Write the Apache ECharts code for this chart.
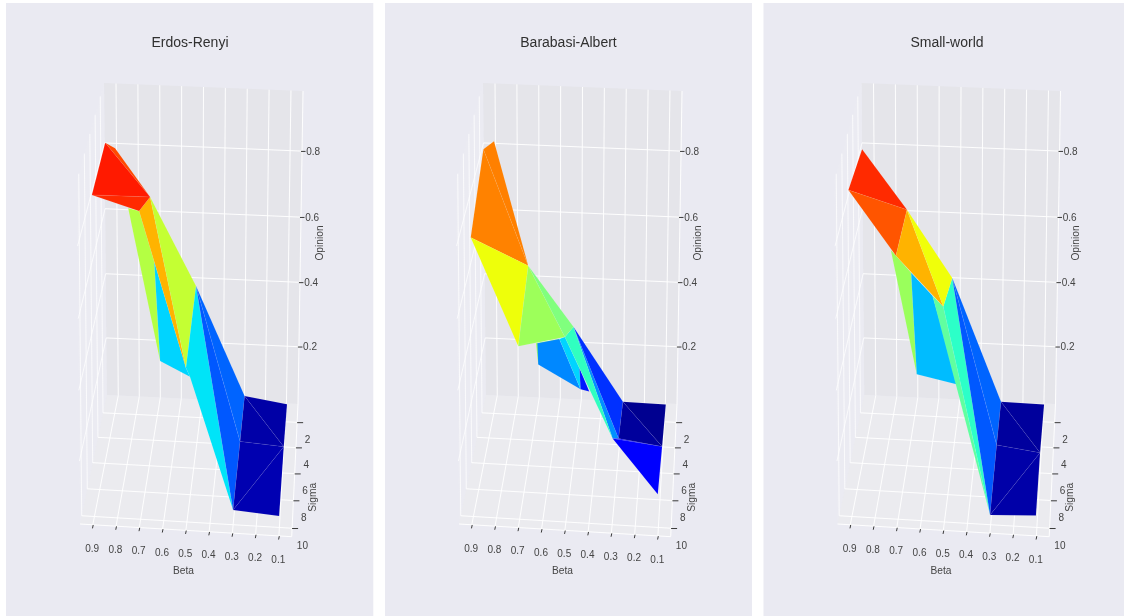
<!DOCTYPE html>
<html><head><meta charset="utf-8"><style>html,body{margin:0;padding:0;background:#fff}#c{width:1124px;height:616px}#c canvas{filter:blur(.3px)}</style>
<script src="https://cdn.jsdelivr.net/npm/echarts@6/dist/echarts.min.js"></script></head><body><div id="c"></div>
<script>
// ---------- chart content ----------
const panelTitles = ['Erdos-Renyi', 'Barabasi-Albert', 'Small-world'];
const betaTicks = [0.9, 0.8, 0.7, 0.6, 0.5, 0.4, 0.3, 0.2, 0.1];
const sigmaTicks = [2, 4, 6, 8, 10];
const opinionTicks = [0.2, 0.4, 0.6, 0.8];

// Erdos-Renyi surface: one value per vertex
const erBeta    = [.946,.901,.741,.528,.297,.096,.811,.695,.669,.533,.302,.101,.901,.705,.507,.301,.102];
const erSigma   = [1,1,1,1,1,1,4,4,4,4,4,4,10,10,10,10,10];
const erOpinion = [.815,.800,.657,.391,.056,.037,.712,.558,.262,.219,.030,.021,.924,.886,.458,.062,.053];
const erFaces = [[0,1,2],[6,13,7,8],[7,8,9,14],[13,2,14],[2,3,14],[3,14,9,15],[3,4,10],[3,10,15],[4,5,11],[4,11,10],[10,11,15],[11,16,15],[0,2,12],[12,2,13]];
const erColors = ['#ff4a00','#b4ff43','#00d4ff','#ffb300','#c4ff33','#00e4f8','#0064ff','#0058ff','#0000a6','#0000a8','#0000b0','#0000b2','#ff1a00','#ff2a00'];

// Barabasi-Albert surface
const baBeta    = [.901,.950,.746,.535,.300,.097,.683,.673,.577,.485,.480,.440,.304,.104,.903,.705,.508,.302,.105,.677];
const baSigma   = [1,1,1,1,1,1,4,4,4,4,4,4,4,4,10,10,10,10,10,4];
const baOpinion = [.821,.795,.447,.265,.038,.036,.315,.251,.331,.246,.183,.177,.039,.021,.807,.512,.544,.266,.115,.315];
const baFaces = [[0,1,2],[1,14,2],[14,2,15],[6,7,8],[19,7,10,8],[8,16,9,10],[9,10,11],[3,17,12],[3,4,12],[16,3,17],[2,15,16],[2,16,3],[17,12,13],[17,13,18],[4,5,13],[4,13,12]];
const baColors = ['#ff8000','#ff8200','#eeff0a','#9cff5a','#0088ff','#00d4ff','#0018ff','#0090ff','#0030ff','#30ffc0','#9dff5a','#80ff7e','#0000ff','#0000ff','#000090','#00009c'];

// Small-world surface
const swBeta    = [.949,.744,.534,.302,.098,.789,.698,.601,.673,.483,.476,.476,.306,.106,.905,.708,.509,.303,.105];
const swSigma   = [1,1,1,1,1,4,4,4,4,4,4,4,4,4,10,10,10,10,10];
const swOpinion = [.795,.618,.416,.038,.036,.590,.525,.459,.222,.196,.217,.194,.019,.002,.937,.763,.629,.048,.054];
const swFaces = [[5,15,6,8],[6,7,9,8],[10,9,11],[7,16,17],[16,2,17],[2,3,12],[2,12,17],[3,4,13],[3,13,12],[12,13,17],[13,18,17],[0,1,14],[14,1,15],[15,1,16],[1,2,16]];
const swColors = ['#9aff5c','#00bcff','#0030ff','#60ffa0','#2cffc8','#0064ff','#0058ff','#00009c','#00009e','#0000a8','#0000a8','#ff2a00','#ff5500','#ffb300','#f0ff0a'];

// ---------- 3D view: scene box corners on screen, for the first panel ----------
const bMin=.045,bMax=.955,sMin=.5,sMax=10.6,zMin=.02,zMax=.98;
const K={A:[106.7,395],B:[298,404],C:[80,524],D:[291.7,536.7],E:[104,83],F:[303,91],G:[77,180],H:[298,190]};
const panelOffsets=[0,379,757.5];
const panelBoxes=[[6,3,367.3,613],[385,3,367,613],[763.5,3,360.5,613]];
const lerp=(p,q,r)=>p+(q-p)*r;
function project(pn,b,s,z){
  const a=(bMax-b)/(bMax-bMin);
  let t=(s-sMin)/(sMax-sMin); t=t-.08*t*(1-t);
  let c=(z-zMin)/(zMax-zMin); c=c-.03*c*(1-c);
  const f=i=>lerp(lerp(lerp(K.A[i],K.B[i],a),lerp(K.C[i],K.D[i],a),t),lerp(lerp(K.E[i],K.F[i],a),lerp(K.G[i],K.H[i],a),t),c);
  return [f(0)+panelOffsets[pn],f(1)];
}

const surfaces=[
 {beta:erBeta,sigma:erSigma,opinion:erOpinion,faces:erFaces,colors:erColors},
 {beta:baBeta,sigma:baSigma,opinion:baOpinion,faces:baFaces,colors:baColors},
 {beta:swBeta,sigma:swSigma,opinion:swOpinion,faces:swFaces,colors:swColors}];

const TXT='#444444', FONT='"Liberation Sans",Arial,sans-serif';
function panelItems(pn){
  const it=[];
  const P=(b,s,z)=>project(pn,b,s,z);
  const poly=(pts,fill,stroke,w)=>it.push({k:'poly',pts,fill,stroke,w});
  const line=(p,q,stroke,w)=>it.push({k:'line',pts:[p,q],stroke,w});
  const text=(p,str,o)=>it.push(Object.assign({k:'text',p,str},o));
  const box=panelBoxes[pn];
  poly([[box[0],box[1]],[box[0]+box[2],box[1]],[box[0]+box[2],box[1]+box[3]],[box[0],box[1]+box[3]]],'#eaeaf2');
  // panes
  poly([P(bMin,sMin,zMin),P(bMax,sMin,zMin),P(bMax,sMin,zMax),P(bMin,sMin,zMax)],'#e5e5ea');
  poly([P(bMax,sMin,zMin),P(bMax,sMax,zMin),P(bMax,sMax,zMax),P(bMax,sMin,zMax)],'#ebebf2');
  poly([P(bMin,sMin,zMin),P(bMax,sMin,zMin),P(bMax,sMax,zMin),P(bMin,sMax,zMin)],'#ebebef');
  const G='rgba(255,255,255,.95)',GL='rgba(255,255,255,.75)',W=1;
  betaTicks.forEach(b=>{ line(P(b,sMin,zMin),P(b,sMin,zMax),G,W); line(P(b,sMin,zMin),P(b,sMax,zMin),G,W); });
  sigmaTicks.forEach(s=>{ line(P(bMin,s,zMin),P(bMax,s,zMin),G,W); line(P(bMax,s,zMin),P(bMax,s,zMax),GL,W); });
  opinionTicks.forEach(z=>{ line(P(bMin,sMin,z),P(bMax,sMin,z),G,W); line(P(bMax,sMin,z),P(bMax,sMax,z),GL,W); });
  // box edges
  line(P(bMin,sMin,zMin),P(bMin,sMax,zMin),G,W); line(P(bMin,sMax,zMin),P(bMax,sMax,zMin),G,W);
  line(P(bMin,sMin,zMin),P(bMin,sMin,zMax),G,W);
  // surface
  const S=surfaces[pn];
  S.faces.forEach((f,i)=>poly(f.map(v=>P(S.beta[v],S.sigma[v],S.opinion[v])),S.colors[i],'rgba(255,255,255,.1)',.5));
  // ticks and tick labels
  const off=(p,dx,dy)=>[p[0]+dx,p[1]+dy];
  betaTicks.forEach(b=>{
    const p=P(b,sMax,zMin);
    line(off(p,.4,.2),off(p,-.3,3.6),'#3a3a3a',1);
    text(off(p,-.6,24),b.toFixed(1),{size:10});
  });
  sigmaTicks.forEach(s=>{
    const p=P(bMin,s,zMin);
    line(off(p,0,.3),off(p,6,.3),'#3a3a3a',1);
    text(off(p,10.3,17.6),String(s),{size:10});
  });
  opinionTicks.forEach(z=>{
    const p=P(bMin,sMin,z);
    line(off(p,-1,.3),off(p,3.5,.3),'#3a3a3a',1);
    text(off(p,4.2,.8),z.toFixed(1),{size:10,align:'left'});
  });
  const o=panelOffsets[pn];
  text([183.5+o,571.5],'Beta',{size:10.2});
  text([320+o-(pn?1:0),243],'Opinion',{size:10.2,rot:true});
  text([313.3+o-(pn?.5:0),497.3],'Sigma',{size:10.2,rot:true});
  return it;
}

function makeSeries(pn){
  const items=panelItems(pn);
  return {type:'custom',coordinateSystem:'cartesian2d',clip:false,silent:true,animation:false,
    data:items.map((_,i)=>[i]),encode:{x:0,y:0},
    renderItem(params,api){
      const d=items[params.dataIndex];
      if(d.k==='poly') return {type:'polygon',shape:{points:d.pts.map(p=>api.coord(p))},style:{fill:d.fill,stroke:d.stroke||null,lineWidth:d.w||0}};
      if(d.k==='line'){const a=api.coord(d.pts[0]),b=api.coord(d.pts[1]);
        return {type:'line',shape:{x1:a[0],y1:a[1],x2:b[0],y2:b[1]},style:{stroke:d.stroke,lineWidth:d.w}};}
      const c=api.coord(d.p);
      return {type:'text',x:c[0],y:c[1],rotation:d.rot?Math.PI/2:0,
        style:{x:0,y:0,text:d.str,fill:TXT,font:d.size+'px '+FONT,align:d.align||'center',verticalAlign:'middle'}};
    }};
}

const chart=echarts.init(document.getElementById('c'),null,{renderer:'canvas'});
chart.setOption({
  backgroundColor:'#ffffff',animation:false,
  grid:{left:0,right:0,top:0,bottom:0},
  xAxis:{type:'value',min:0,max:1124,show:false},
  yAxis:{type:'value',min:0,max:616,inverse:true,show:false},
  title:panelTitles.map((t,i)=>({text:t,left:[185,563.5,942][i],top:31,textAlign:'center',
    textStyle:{fontSize:14,fontWeight:'normal',color:'#303030',fontFamily:FONT}})),
  series:[0,1,2].map(makeSeries)
});
</script></body></html>
